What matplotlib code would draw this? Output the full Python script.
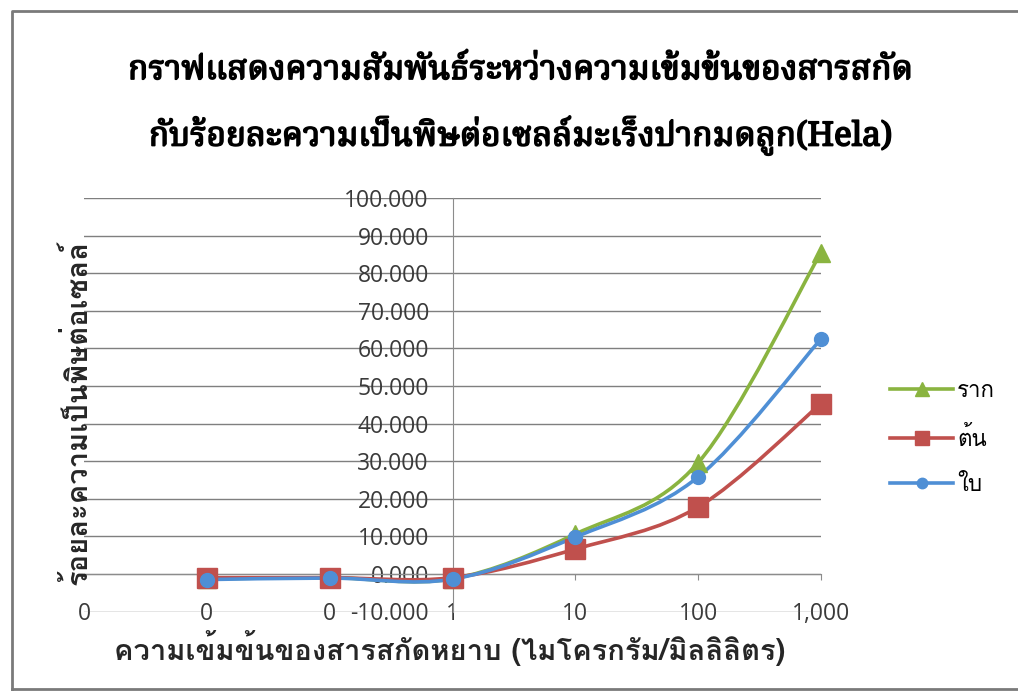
import matplotlib
matplotlib.use("Agg")
import numpy as np
import matplotlib.pyplot as plt
from matplotlib import font_manager
from matplotlib import patheffects
from matplotlib.path import Path
from matplotlib.patches import PathPatch
from matplotlib.lines import Line2D

# ข้อมูลที่อ่านจากกราฟ
conc = [0.01, 0.1, 1, 10, 100, 1000]
root = [-1.3, -1.0, -1.3, 10.6, 29.6, 85.5]   # ราก
stem = [-1.0, -1.0, -1.0, 6.6, 17.8, 45.3]    # ต้น
leaf = [-1.5, -1.1, -1.4, 9.8, 25.8, 62.5]    # ใบ
series_names = ["ราก", "ต้น", "ใบ"]
x_ticks = [0.001, 0.01, 0.1, 1, 10, 100, 1000]
x_tick_labels = ["0", "0", "0", "1", "10", "100", "1,000"]
y_ticks = list(range(-10, 101, 10))

title = ("กราฟแสดงความสัมพันธ์ระหว่างความเข้มข้นของสารสกัด\n"
         "กับร้อยละความเป็นพิษต่อเซลล์มะเร็งปากมดลูก(Hela)")
x_label = "ความเข้มข้นของสารสกัดหยาบ (ไมโครกรัม/มิลลิลิตร)"
y_label = "ร้อยละความเป็นพิษต่อเซลล์"


def pick(*names):
    installed = {f.name for f in font_manager.fontManager.ttflist}
    chosen = [n for n in names if n in installed]
    return chosen[:1] + ["DejaVu Sans"]


def smooth_path(xs, ys):
    # เส้นโค้งแบบ Excel (Catmull-Rom -> Bezier) ในสเกล log ของแกน x
    pts = np.column_stack([np.log10(xs), ys])
    verts, codes = [pts[0]], [Path.MOVETO]
    n = len(pts)
    for i in range(n - 1):
        p0 = pts[i - 1] if i > 0 else pts[i]
        p1, p2 = pts[i], pts[i + 1]
        p3 = pts[i + 2] if i + 2 < n else p2
        verts += [p1 + (p2 - p0) / 6, p2 - (p3 - p1) / 6, p2]
        codes += [Path.CURVE4] * 3
    verts = np.array(verts)
    verts[:, 0] = 10 ** verts[:, 0]
    return Path(verts, codes)


title_font = pick("Noto Serif Thai", "Norasi", "Kinnari")
label_font = pick("Loma", "Garuda", "Noto Sans Thai Looped", "Noto Sans Thai")
num_font = ["Open Sans", "DejaVu Sans"]

fig = plt.figure(figsize=(10.18, 6.94), dpi=100)
ax = fig.add_axes([84 / 1018, 1 - 611.5 / 694, (821 - 84) / 1018, (611.5 - 198) / 694])

colors = ["#8AB440", "#C0504D", "#4F8FD5"]
markers = ["^", "s", "o"]
msizes = [13, 14, 10]
for vals, color, marker, ms in zip([root, stem, leaf], colors, markers, msizes):
    ax.add_patch(PathPatch(smooth_path(conc, vals), fill=False, edgecolor=color,
                           linewidth=2.6, transform=ax.transData, zorder=3))
    ax.plot(conc, vals, linestyle="none", marker=marker, markersize=ms,
            color=color, zorder=4, clip_on=False)

ax.set_xscale("log")
ax.set_xlim(0.001, 1000)
ax.set_ylim(-10, 100)
ax.minorticks_off()
ax.set_xticks(x_ticks)
ax.set_xticklabels(x_tick_labels)
ax.set_yticks(y_ticks)
ax.set_yticklabels([f"{v:.3f}" for v in y_ticks])
ax.yaxis.grid(True, color="#7f7f7f", linewidth=1.0)
ax.set_axisbelow(True)

for side in ["top", "right"]:
    ax.spines[side].set_visible(False)
ax.spines["left"].set_position(("data", 1))
ax.spines["bottom"].set_position(("data", 0))
ax.spines["left"].set_color("#8c8c8c")
ax.spines["bottom"].set_color("#8c8c8c")
ax.tick_params(axis="y", length=0, pad=17, labelsize=16.5, labelcolor="#3a3a3a")
ax.tick_params(axis="x", direction="out", length=4.5, color="#8c8c8c", pad=15.5,
               labelsize=16.5, labelcolor="#3a3a3a")
for lbl in ax.get_xticklabels() + ax.get_yticklabels():
    lbl.set_family(num_font)

fig.text(0.511, 0.849, title, ha="center", va="center", fontsize=24,
         fontweight="bold", family=title_font, linespacing=1.95,
         path_effects=[patheffects.withStroke(linewidth=1.2, foreground="black")])
fig.text(0.076, 0.405, y_label, ha="center", va="center", rotation=90,
         fontsize=21, fontweight="bold", family=label_font, color="#262626")
fig.text(0.442, 0.066, x_label, ha="center", va="center", fontsize=21,
         fontweight="bold", family=label_font, color="#262626")

handles = [Line2D([], [], color=c, marker=m, markersize=ms * 0.75, linewidth=2.6)
           for c, m, ms in zip(colors, markers, msizes)]
leg = fig.legend(handles, series_names, loc="center left",
                 bbox_to_anchor=(0.855, 0.368), frameon=False, labelspacing=1.1,
                 handlelength=2.8, handletextpad=0.2,
                 prop={"family": label_font, "size": 16})

# กรอบของภาพสแกน
fig.add_artist(Line2D([12 / 1018, 12 / 1018, 1.0], [5 / 694, 683 / 694, 683 / 694],
                      color="#7a7a7a", linewidth=2.0, transform=fig.transFigure))
fig.add_artist(Line2D([12 / 1018, 1.0], [5 / 694, 5 / 694],
                      color="#7a7a7a", linewidth=2.0, transform=fig.transFigure))

fig.savefig("out.png", dpi=100)
